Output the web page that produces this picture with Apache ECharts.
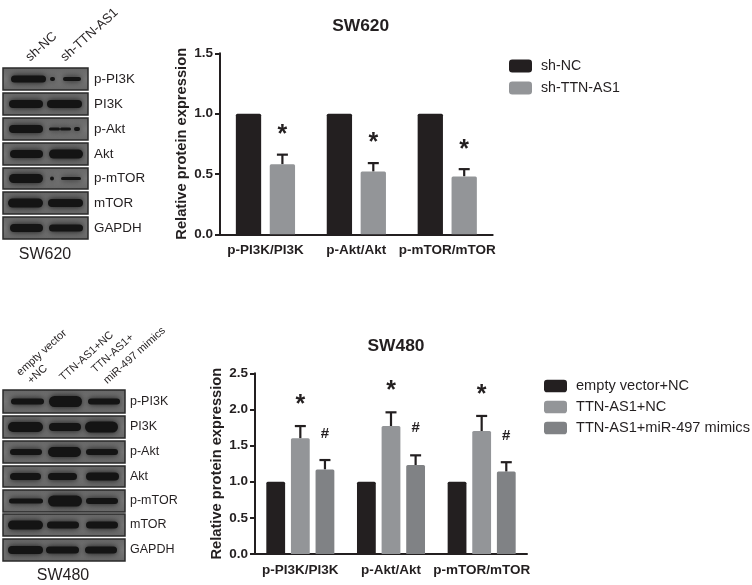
<!DOCTYPE html>
<html><head><meta charset="utf-8">
<style>html,body{margin:0;padding:0;background:#fff}#c{width:752px;height:585px}</style>
<script src="https://cdn.jsdelivr.net/npm/echarts@6/dist/echarts.min.js"></script>
</head><body><div id="c"></div>
<script>
const FONT='"Liberation Sans",Arial,sans-serif', INK='#231f20';
const BLACK='#231f20', GRAY='#939598', DARK='#808285';

const categories=['p-PI3K/PI3K','p-Akt/Akt','p-mTOR/mTOR'];
// SW620
const sw620Names=['sh-NC','sh-TTN-AS1'];
const sw620NC=[1,1,1];
const sw620KD=[0.58,0.52,0.48];
const sw620KDTop=[0.66,0.59,0.54];
const sw620Star=[0.865,0.796,0.74];
// SW480
const sw480Names=['empty vector+NC','TTN-AS1+NC','TTN-AS1+miR-497 mimics'];
const sw480Empty=[1,1,1];
const sw480TTN=[1.60,1.77,1.70];
const sw480TTNTop=[1.77,1.96,1.91];
const sw480Mim=[1.17,1.23,1.14];
const sw480MimTop=[1.30,1.365,1.27];
const sw480Star=[2.12,2.315,2.26];
const sw480Hash=[1.67,1.75,1.647];

const blotLabels=['p-PI3K','PI3K','p-Akt','Akt','p-mTOR','mTOR','GAPDH'];
// Blot bands: [start, end, thickness] in px, relative to the image
const blot620=[
 [[11,46,7],[50,55,4],[63,81,4]],
 [[9,43,8],[47,82,8]],
 [[9,43,8],[49,60,3],[60,71,3],[74,80,4]],
 [[10,43,8],[49,83,9]],
 [[9,43,9],[50,54,4],[61,81,3]],
 [[8,43,9],[48,83,8]],
 [[10,43,8],[49,83,7]]];
const rows620=[[68,90],[93,115],[118,140],[143,165],[168,189],[192,214],[217,239]];
const blot480=[
 [[11,44,6],[49,82,11],[88,120,6]],
 [[8,43,10],[49,81,8],[85,118,11]],
 [[10,42,6],[48,81,10],[86,118,6]],
 [[10,41,7],[48,77,7],[86,119,8]],
 [[9,43,5],[48,82,11],[86,118,6]],
 [[8,43,9],[47,79,7],[86,118,7]],
 [[8,43,8],[46,79,7],[85,117,7]]];
const rows480=[[390,413],[416,438],[441,463],[466,487],[490,512],[514,536],[539,561]];

function blot(x0,x1,rows,bands,labelX,fs){
  const out=[];
  rows.forEach((r,i)=>{
    out.push({type:'rect',shape:{x:x0,y:r[0],width:x1-x0,height:r[1]-r[0]},
      style:{fill:{type:'linear',x:0,y:0,x2:0,y2:1,colorStops:[{offset:0,color:'#666'},{offset:.5,color:'#777'},{offset:1,color:'#666'}]},stroke:'#2a2a2a',lineWidth:1.5}});
    const cy=(r[0]+r[1])/2;
    bands[i].forEach(b=>out.push({type:'rect',shape:{x:b[0],y:cy-b[2]/2,width:b[1]-b[0],height:b[2],r:b[2]/2},
      style:{fill:'#141414',shadowBlur:6,shadowColor:'#111'}}));
    out.push({type:'text',x:labelX,y:cy,style:{text:blotLabels[i],fill:INK,font:fs+'px '+FONT,textVerticalAlign:'middle',textAlign:'left'}});
  });
  return out;
}
const ANGLE=42*Math.PI/180;
function rotText(t,x,y,size){
  return {type:'text',x,y,rotation:ANGLE,style:{text:t,fill:INK,font:size+'px '+FONT,textAlign:'left',textVerticalAlign:'bottom'}};
}
const graphics=[
  ...blot(3,88,rows620,blot620,94,13.4),
  ...blot(3,125,rows480,blot480,130,12.5),
  rotText('sh-NC',32,64,13), rotText('sh-TTN-AS1',67,64,13),
  rotText('empty vector',22,378,11), rotText('+NC',33,386,11),
  rotText('TTN-AS1+NC',65,383,11), rotText('TTN-AS1+',97,375,11), rotText('miR-497 mimics',109,386,11),
  {type:'text',x:45,y:255,style:{text:'SW620',fill:INK,font:'16px '+FONT,textAlign:'center',textVerticalAlign:'middle'}},
  {type:'text',x:63,y:576,style:{text:'SW480',fill:INK,font:'16px '+FONT,textAlign:'center',textVerticalAlign:'middle'}}
].map(g=>Object.assign(g,{silent:true}));

function xAxis(i){return {type:'category',gridIndex:i,data:categories,
  axisLine:{lineStyle:{color:INK,width:2}},axisTick:{alignWithLabel:true,length:5,lineStyle:{color:INK,width:2}},
  axisLabel:{color:INK,fontFamily:FONT,fontWeight:'bold',fontSize:13.5,margin:9,interval:0}};}
function yAxis(i,max,interval,gap){return {type:'value',gridIndex:i,min:0,max,interval,
  name:'Relative protein expression',nameLocation:'middle',nameGap:gap,
  nameTextStyle:{color:INK,fontFamily:FONT,fontWeight:'bold',fontSize:14.7},
  splitLine:{show:false},axisLine:{show:true,lineStyle:{color:INK,width:2}},
  axisTick:{show:true,length:5,lineStyle:{color:INK,width:2}},
  axisLabel:{color:INK,fontFamily:FONT,fontWeight:'bold',fontSize:13.5,margin:7,formatter:v=>v.toFixed(1)}};}

function bar(name,data,color,axis,w,gap){return {type:'bar',name,data,xAxisIndex:axis,yAxisIndex:axis,barWidth:w,barGap:gap,
  itemStyle:{color,borderRadius:[1.5,1.5,0,0]},silent:true,animation:false};}
// overlays placed over the n-th bar of a group
function offset(band,fr,gapFr,count,n){const bw=band*fr,g=bw*gapFr,total=count*bw+(count-1)*g;return -total/2+bw/2+n*(bw+g);}
function errs(means,tops,axis,fr,gapFr,count,n){return {type:'custom',xAxisIndex:axis,yAxisIndex:axis,silent:true,animation:false,z:1,
  data:means.map((m,i)=>[i,m,tops[i]]),encode:{x:0,y:[1,2]},
  renderItem(p,api){const a=api.coord([api.value(0),api.value(1)]),b=api.coord([api.value(0),api.value(2)]);
    const x=a[0]+offset(api.size([1,0])[0],fr,gapFr,count,n);
    const s={stroke:INK,lineWidth:2.2};
    return {type:'group',children:[
      {type:'line',shape:{x1:x,y1:a[1],x2:x,y2:b[1]},style:s},
      {type:'line',shape:{x1:x-5.5,y1:b[1],x2:x+5.5,y2:b[1]},style:s}]};}};}
function marks(txt,size,vals,axis,fr,gapFr,count,n,dy){return {type:'custom',xAxisIndex:axis,yAxisIndex:axis,silent:true,animation:false,z:5,
  data:vals.map((v,i)=>[i,v]),encode:{x:0,y:1},
  renderItem(p,api){const a=api.coord([api.value(0),api.value(1)]);
    return {type:'text',x:a[0]+offset(api.size([1,0])[0],fr,gapFr,count,n),y:a[1]+dy,
      style:{text:txt,fill:INK,font:'bold '+size+'px '+FONT,textAlign:'center',textVerticalAlign:'middle'}};}};}

const F1=25.3/90.9,G1=.34,F2=18.8/90.7,G2=.31;
const option={animation:false,backgroundColor:'#fff',
 title:[
  {text:'SW620',left:355.7,top:21.5,textAlign:'center',textVerticalAlign:'middle',textStyle:{color:INK,fontFamily:FONT,fontWeight:'bold',fontSize:17.4}},
  {text:'SW480',left:391,top:341.5,textAlign:'center',textVerticalAlign:'middle',textStyle:{color:INK,fontFamily:FONT,fontWeight:'bold',fontSize:17.4}}],
 grid:[{left:220,top:53.3,width:272.7,height:181},{left:255,top:373.3,width:272,height:180.7}],
 xAxis:[xAxis(0),xAxis(1)],
 yAxis:[yAxis(0,1.5,0.5,31),yAxis(1,2.5,0.5,31)],
 legend:[
  {data:sw620Names,left:509,top:59,orient:'vertical',itemWidth:23,itemHeight:13,itemGap:8,padding:0,icon:'roundRect',selectedMode:false,
   textStyle:{color:INK,fontFamily:FONT,fontSize:14.2,padding:[0,0,0,4]}},
  {data:sw480Names,left:544,top:378.5,orient:'vertical',itemWidth:23,itemHeight:12.5,itemGap:6,padding:0,icon:'roundRect',selectedMode:false,
   textStyle:{color:INK,fontFamily:FONT,fontSize:14.6,padding:[0,0,0,4]}}],
 series:[
  bar(sw620Names[0],sw620NC,BLACK,0,F1*100+'%',G1*100+'%'),
  bar(sw620Names[1],sw620KD,GRAY,0,F1*100+'%',G1*100+'%'),
  errs(sw620KD,sw620KDTop,0,F1,G1,2,1),
  marks('*',25,sw620Star,0,F1,G1,2,1,5),
  bar(sw480Names[0],sw480Empty,BLACK,1,F2*100+'%',G2*100+'%'),
  bar(sw480Names[1],sw480TTN,GRAY,1,F2*100+'%',G2*100+'%'),
  bar(sw480Names[2],sw480Mim,DARK,1,F2*100+'%',G2*100+'%'),
  errs(sw480TTN,sw480TTNTop,1,F2,G2,3,1),
  errs(sw480Mim,sw480MimTop,1,F2,G2,3,2),
  marks('*',25,sw480Star,1,F2,G2,3,1,4),
  marks('#',15,sw480Hash,1,F2,G2,3,2,0.5)
 ],
 graphic:{elements:graphics}
};
echarts.init(document.getElementById('c'),null,{renderer:'canvas'}).setOption(option);
</script></body></html>
